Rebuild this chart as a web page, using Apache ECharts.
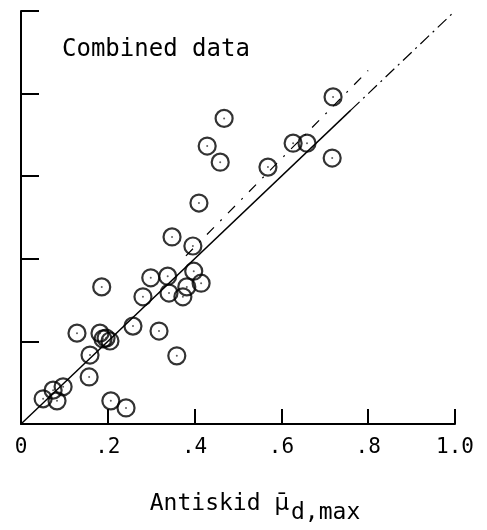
<!DOCTYPE html>
<html>
<head>
<meta charset="utf-8">
<script src="https://cdn.jsdelivr.net/npm/echarts@6/dist/echarts.min.js"></script>
<style>
  html, body { margin: 0; padding: 0; background: #fff; }
  #chart { width: 487px; height: 530px; }
</style>
</head>
<body>
<div id="chart"></div>
<script>
var antiskid = [0.719, 0.468, 0.429, 0.459, 0.627, 0.659, 0.717, 0.569, 0.410, 0.348, 0.396,
  0.186, 0.299, 0.338, 0.398, 0.281, 0.341, 0.373, 0.382, 0.415, 0.258, 0.318, 0.359,
  0.129, 0.182, 0.196, 0.205, 0.189, 0.159, 0.157, 0.207, 0.242, 0.051, 0.074, 0.097, 0.083];
var measured = [0.792, 0.740, 0.673, 0.634, 0.680, 0.680, 0.644, 0.622, 0.535, 0.453, 0.431,
  0.332, 0.354, 0.358, 0.370, 0.308, 0.317, 0.308, 0.332, 0.341, 0.237, 0.225, 0.165,
  0.220, 0.220, 0.208, 0.201, 0.206, 0.167, 0.114, 0.056, 0.039, 0.061, 0.082, 0.090, 0.056];

// 1:1 line, solid part then dash-dot extension
var lineSolidX = [0, 0.76];
var lineSolidY = [0, 0.76];
var lineExtX = [0.76, 1.0];
var lineExtY = [0.76, 1.0];
// upper dash-dot line
var upperX = [0.38, 0.80];
var upperY = [0.407, 0.856];

var xTicks = { 0: "0", 0.2: ".2", 0.4: ".4", 0.6: ".6", 0.8: ".8", 1: "1.0" };

function pairs(xs, ys) {
  return xs.map(function (x, i) { return [x, ys[i]]; });
}

var font = "DejaVu Sans Mono";
var points = pairs(antiskid, measured);

var chart = echarts.init(document.getElementById("chart"));
var option = {
  animation: false,
  backgroundColor: "#fff",
  grid: { left: 21, right: 32, top: 11, bottom: 106 },
  graphic: [
    {
      type: "text",
      left: 62,
      top: 38,
      style: { text: "Combined data", font: "24px " + font, fill: "#000" },
    },
  ],
  xAxis: {
    type: "value",
    min: 0,
    max: 1,
    interval: 0.2,
    splitLine: { show: false },
    axisLine: { lineStyle: { color: "#000", width: 2 } },
    axisTick: { inside: true, length: 15, lineStyle: { color: "#000", width: 2 } },
    axisLabel: {
      margin: 13,
      color: "#000",
      fontFamily: font,
      fontSize: 21,
      formatter: function (v) {
        var k = Math.round(v * 10) / 10;
        return xTicks[k] !== undefined ? xTicks[k] : "";
      },
    },
    name: "{a|Antiskid }{m|μ\u0304}{s|d,max}",
    nameLocation: "middle",
    nameGap: 69,
    nameTextStyle: {
      padding: [0, 0, 0, 34],
      rich: {
        a: { fontFamily: font, fontSize: 23, color: "#000", lineHeight: 24, verticalAlign: "top" },
        m: { fontFamily: "DejaVu Sans", fontSize: 23, color: "#000", lineHeight: 24, verticalAlign: "top" },
        s: { fontFamily: font, fontSize: 23, color: "#000", lineHeight: 24, verticalAlign: "top", padding: [9, 0, 0, 2] },
      },
    },
  },
  yAxis: {
    type: "value",
    min: 0,
    max: 1,
    interval: 0.2,
    splitLine: { show: false },
    axisLine: { show: true, lineStyle: { color: "#000", width: 2 } },
    axisTick: { show: true, inside: true, length: 18, lineStyle: { color: "#000", width: 2 } },
    axisLabel: { show: false },
  },
  series: [
    {
      type: "line",
      data: pairs(lineSolidX, lineSolidY),
      symbol: "none",
      lineStyle: { color: "#000", width: 1.4 },
      z: 1,
    },
    {
      type: "line",
      data: pairs(lineExtX, lineExtY),
      symbol: "none",
      lineStyle: { color: "#000", width: 1.2, type: [12, 5, 2, 5] },
      z: 1,
    },
    {
      type: "line",
      data: pairs(upperX, upperY),
      symbol: "none",
      lineStyle: { color: "#000", width: 1.2, type: [10, 9, 2, 9] },
      z: 1,
    },
    {
      name: "Combined data",
      type: "scatter",
      data: points,
      symbol: "circle",
      symbolSize: 17,
      itemStyle: { color: "rgba(0,0,0,0)", borderColor: "#000", borderWidth: 2.2 },
      z: 3,
    },
    {
      type: "scatter",
      data: points,
      symbol: "circle",
      symbolSize: 2,
      itemStyle: { color: "#333" },
      silent: true,
      z: 4,
    },
  ],
};
chart.setOption(option);
</script>
</body>
</html>
